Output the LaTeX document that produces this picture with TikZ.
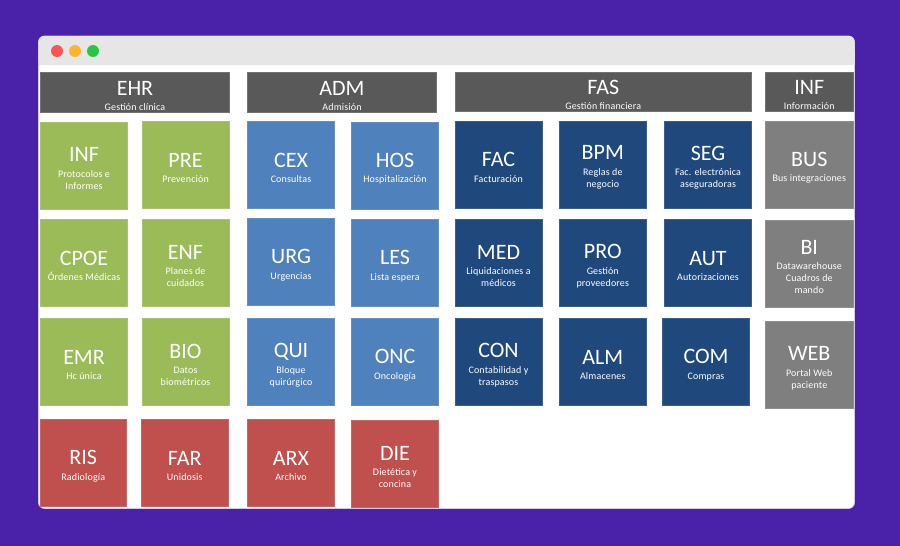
\documentclass[tikz,border=0pt]{standalone}
\usepackage{fontspec}
\setmainfont{Carlito}
\newfontfamily\subfont[LetterSpace=1.5]{Carlito}
\definecolor{bgpurple}{HTML}{4A22AA}
\definecolor{barg}{HTML}{E6E6E6}
\definecolor{hdr}{HTML}{595959}
\definecolor{cgreen}{HTML}{9BBB59}
\definecolor{cblue}{HTML}{4F81BD}
\definecolor{cnavy}{HTML}{1F497D}
\definecolor{cred}{HTML}{C0504D}
\definecolor{cgray}{HTML}{7F7F7F}
\definecolor{dotr}{HTML}{FC5353}
\definecolor{doty}{HTML}{FDB52F}
\definecolor{dotg}{HTML}{27C840}
\tikzset{
  modbox/.style={anchor=center,inner sep=0pt,outer sep=0pt,align=center,text=white,line width=0.5pt,
    font=\subfont\fontsize{10}{12}\selectfont},
  hdrbox/.style={modbox,fill=hdr,draw=hdr!85!white},
  windot/.style={circle,inner sep=0pt,minimum size=12pt}
}
% name, x0, y0, x1, y1, colour, title, sub
\newcommand{\tile}[8]{%
  \node[modbox,fill=#6,draw=#6!88!white,minimum width={(#4-#2-1)*1pt},minimum height={(#5-#3-1)*1pt}]
    (#1) at ({(#2+#4)/2},{(#3+#5)/2}) {};
  \node[modbox] (#1t) at ({(#2+#4)/2},{(#3+#5)/2+3}) {\rmfamily\fontsize{22}{22}\selectfont #7\\[3.5pt]#8};
}
\newcommand{\head}[6]{%
  \node[hdrbox,minimum width={(#4-#2-1)*1pt},minimum height={(#5-#3-1)*1pt}] (#1) at ({(#2+#4)/2},{(#3+#5)/2}) {};
  \node[modbox] (#1t) at ({(#2+#4)/2},{(#3+#5)/2+3.3}) {\rmfamily\fontsize{22}{22}\selectfont #6};
}
\begin{document}
\begin{tikzpicture}[x=1pt,y=-1pt]
\useasboundingbox (0,0) rectangle (900,546);
\fill[bgpurple] (0,0) rectangle (900,546);
% window
\fill[white,draw=white!75!bgpurple,line width=0.7pt,rounded corners=6pt] (38.5,36) rectangle (854.5,508.5);
\fill[barg,rounded corners=6pt] (38.5,36) -- (854.5,36) -- (854.5,65) -- (38.5,65) -- cycle;
\fill[barg] (38.5,50) rectangle (854.5,65);
\node[windot,fill=dotr] (dotred) at (57,51) {};
\node[windot,fill=doty] (dotyellow) at (75,51) {};
\node[windot,fill=dotg] (dotgreen) at (93,51) {};
% headers
\head{hEHR}{40}{72}{230}{113}{EHR\\[3pt]\subfont\fontsize{10}{12}\selectfont Gestión clínica}
\head{hADM}{247}{72}{437}{113}{ADM\\[3pt]\subfont\fontsize{10}{12}\selectfont Admisión}
\head{hFAS}{454.5}{72}{752}{112}{FAS\\[3pt]\subfont\fontsize{10}{12}\selectfont Gestión financiera}
\head{hINF}{765}{72}{853.5}{112}{INF\\[3pt]\subfont\fontsize{10}{12}\selectfont Información}
% green
\tile{INFa}{40}{121.5}{128}{209.5}{cgreen}{INF}{\subfont Protocolos e\\\subfont Informes}
\tile{PRE}{141.5}{121}{229.5}{208.5}{cgreen}{PRE}{\subfont Prevención}
\tile{CPOE}{40}{219}{128}{307}{cgreen}{CPOE}{\subfont Órdenes Médicas}
\tile{ENF}{141.5}{219}{229.5}{307}{cgreen}{ENF}{\subfont Planes de\\\subfont cuidados}
\tile{EMR}{40}{318}{128}{406}{cgreen}{EMR}{\subfont Hc única}
\tile{BIO}{141.5}{318}{229.5}{406}{cgreen}{BIO}{\subfont Datos\\\subfont biométricos}
% red
\tile{RIS}{39.5}{419}{127}{507}{cred}{RIS}{\subfont Radiología}
\tile{FAR}{141}{419}{228.5}{507}{cred}{FAR}{\subfont Unidosis}
\tile{ARX}{247}{419}{335}{507}{cred}{ARX}{\subfont Archivo}
\tile{DIE}{351}{420}{439}{508}{cred}{DIE}{\subfont Dietética y\\\subfont concina}
% blue
\tile{CEX}{247}{121}{335}{208.5}{cblue}{CEX}{\subfont Consultas}
\tile{HOS}{351}{121.5}{439}{209.5}{cblue}{HOS}{\subfont Hospitalización}
\tile{URG}{247}{218}{335}{306}{cblue}{URG}{\subfont Urgencias}
\tile{LES}{351}{219}{439}{307}{cblue}{LES}{\subfont Lista espera}
\tile{QUI}{247}{318}{335}{406}{cblue}{QUI}{\subfont Bloque\\\subfont quirúrgico}
\tile{ONC}{351}{318}{439}{406}{cblue}{ONC}{\subfont Oncología}
% navy
\tile{FAC}{454.5}{120.5}{542.5}{208.5}{cnavy}{FAC}{\subfont Facturación}
\tile{BPM}{559}{120.5}{646.5}{208.5}{cnavy}{BPM}{\subfont Reglas de\\\subfont negocio}
\tile{SEG}{664}{120.5}{752}{208.5}{cnavy}{SEG}{\subfont Fac. electrónica\\\subfont aseguradoras}
\tile{MED}{454.5}{219}{542.5}{307}{cnavy}{MED}{\subfont Liquidaciones a\\\subfont médicos}
\tile{PRO}{559}{219}{646.5}{307}{cnavy}{PRO}{\subfont Gestión\\\subfont proveedores}
\tile{AUT}{664}{219}{752}{307}{cnavy}{AUT}{\subfont Autorizaciones}
\tile{CON}{454.5}{318}{542.5}{406}{cnavy}{CON}{\subfont Contabilidad y\\\subfont traspasos}
\tile{ALM}{559}{318}{646.5}{406}{cnavy}{ALM}{\subfont Almacenes}
\tile{COM}{662}{318}{750}{406}{cnavy}{COM}{\subfont Compras}
% gray
\tile{BUS}{765}{120.5}{853.5}{208.5}{cgray}{BUS}{\subfont Bus integraciones}
\tile{BI}{765}{220}{853.5}{308}{cgray}{BI}{\subfont Datawarehouse\\\subfont Cuadros de\\\subfont mando}
\tile{WEB}{765}{321}{853.5}{409}{cgray}{WEB}{\subfont Portal Web\\\subfont paciente}
\end{tikzpicture}
\end{document}
